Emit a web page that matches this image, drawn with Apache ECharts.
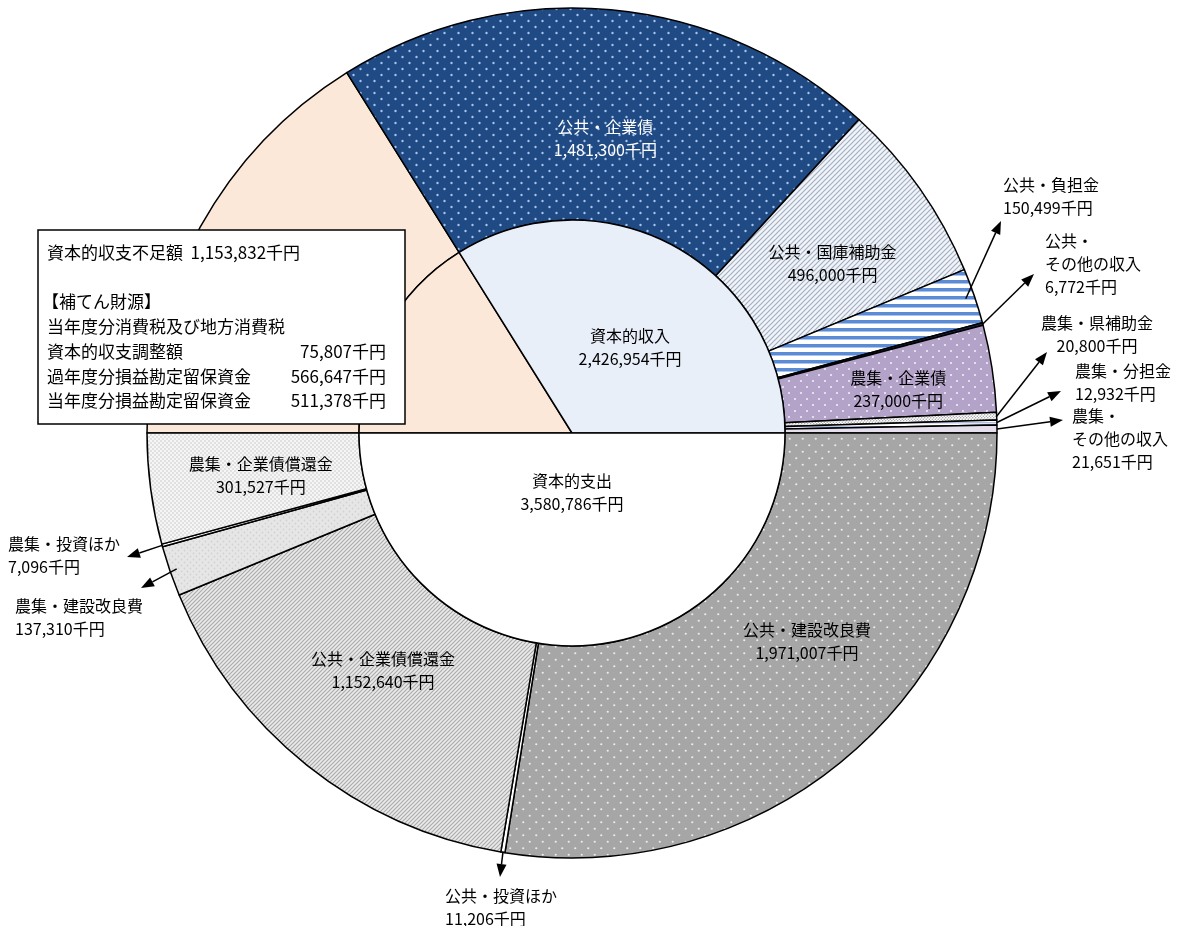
<!DOCTYPE html>
<html>
<head>
<meta charset="utf-8">
<script src="https://cdn.jsdelivr.net/npm/echarts@6/dist/echarts.min.js"></script>
<style>
html, body { margin: 0; padding: 0; background: #fff; }
#chart { width: 1184px; height: 926px; }
</style>
</head>
<body>
<div id="chart"></div>
<script>
// 外側: 資本的収入(上半分) + 資本的支出(下半分)
var outerNames = ['資本的収支不足額', '公共・企業債', '公共・国庫補助金', '公共・負担金', '公共・\nその他の収入',
	'農集・企業債', '農集・県補助金', '農集・分担金', '農集・\nその他の収入',
	'公共・建設改良費', '公共・投資ほか', '公共・企業債償還金', '農集・建設改良費', '農集・投資ほか', '農集・企業債償還金'];
var outerValues = [1153832, 1481300, 496000, 150499, 6772, 237000, 20800, 12932, 21651,
	1971007, 11206, 1152640, 137310, 7096, 301527];
// 内側
var innerNames = ['資本的収支不足額', '資本的収入', '資本的支出'];
var innerValues = [1153832, 2426954, 3580786];
// 補てん財源
var boxTitle = '資本的収支不足額';
var boxHeading = ['【補てん財源】', '当年度分消費税及び地方消費税'];
var boxNames = ['資本的収支調整額', '過年度分損益勘定留保資金', '当年度分損益勘定留保資金'];
var boxValues = [75807, 566647, 511378];

var cx = 572, cy = 433, r0 = 213, r1 = 425;
var font = '"Noto Sans CJK JP", "Noto Sans", sans-serif';

function fmt(v) {
	return v.toLocaleString('en-US') + '千円';
}
function pattern(w, h, bg, draw) {
	var c = document.createElement('canvas');
	c.width = w;
	c.height = h;
	var g = c.getContext('2d');
	g.fillStyle = bg;
	g.fillRect(0, 0, w, h);
	if (draw) draw(g, w, h);
	return { image: c, repeat: 'repeat' };
}
function dots(bg, fg, w, h, r) {
	return pattern(w, h, bg, function(g) {
		g.fillStyle = fg;
		[[w * 0.25, h * 0.25], [w * 0.75, h * 0.75]].forEach(function(p) {
			g.beginPath();
			g.arc(p[0], p[1], r, 0, Math.PI * 2);
			g.fill();
		});
	});
}
function diag(bg, fg, s, lw) {
	return pattern(s, s, bg, function(g) {
		g.strokeStyle = fg;
		g.lineWidth = lw;
		g.beginPath();
		g.moveTo(-1, s + 1); g.lineTo(s + 1, -1);
		g.moveTo(-1, 1); g.lineTo(1, -1);
		g.moveTo(s - 1, s + 1); g.lineTo(s + 1, s - 1);
		g.stroke();
	});
}
function stripes(bg, fg, h, band) {
	return pattern(4, h, bg, function(g) {
		g.fillStyle = fg;
		g.fillRect(0, 0, 4, band);
		g.fillStyle = '#a9c3ea';
		g.fillRect(0, band, 4, 1);
	});
}

var outerFills = [
	'#fce8d9',
	dots('#1f4a84', '#a6c4ec', 14, 12, 1.2),
	diag('#f1f4f9', '#a3afc0', 5, 1.2),
	stripes('#ffffff', '#5b8bd4', 8, 3),
	'#1c2c4c',
	dots('#b3a3c9', '#f1ecf7', 12, 12, 1.1),
	dots('#ffffff', '#9a9a9a', 3, 3, 0.7),
	stripes('#e6e0ef', '#ffffff', 4, 2),
	'#e6e0ee',
	dots('#a6a6a6', '#ececec', 13, 13, 1.1),
	'#ffffff',
	diag('#ebebeb', '#ababab', 4, 1.2),
	dots('#e6e6e6', '#d2d2d2', 6, 6, 0.9),
	'#ffffff',
	dots('#f6f6f6', '#c4c4c4', 4, 4, 0.8)
];
var innerFills = ['#fce8d9', '#e9eff9', '#ffffff'];

// 外部ラベルの位置 [x, y(top), align] と矢印 [先端x, 先端y, 始点半径]
var outsideLabels = {
	3: [1003, 173, 'left'], 4: [1045, 229, 'left'], 6: [1097, 311, 'center'],
	7: [1075, 359, 'left'], 8: [1072, 404, 'left'], 10: [445, 884, 'left'],
	12: [15, 594, 'left'], 13: [8, 532, 'left']
};
var arrows = {
	3: [1001, 221, 416], 4: [1034, 274, 425], 6: [1047, 352, 425], 7: [1061, 391, 425],
	8: [1063, 420, 425], 10: [500, 877, 424], 12: [141, 588, 418], 13: [127, 557, 425]
};
var insideShift = { 1: [4, 26], 2: [-3, 15], 5: [8, 5], 9: [26, -37], 11: [12, -14], 14: [8, 0] };
var innerShift = { 1: [5, 10], 2: [0, -50] };

var total = outerValues.reduce(function(a, b) { return a + b; }, 0);
var cum = 0;
var mids = outerValues.map(function(v) {
	var m = 180 - (cum + v / 2) / total * 360;
	cum += v;
	return m;
});
function polar(r, deg) {
	var a = deg * Math.PI / 180;
	return [cx + r * Math.cos(a), cy - r * Math.sin(a)];
}

var graphics = [];
Object.keys(arrows).forEach(function(k) {
	var a = arrows[k];
	var s = polar(a[2], mids[k]);
	var tx = a[0], ty = a[1];
	var dx = tx - s[0], dy = ty - s[1];
	var len = Math.sqrt(dx * dx + dy * dy);
	var ux = dx / len, uy = dy / len;
	var bx = tx - ux * 13, by = ty - uy * 13;
	graphics.push({
		type: 'line', z: 100,
		shape: { x1: s[0], y1: s[1], x2: bx, y2: by },
		style: { stroke: '#000', lineWidth: 1.5 }
	});
	graphics.push({
		type: 'polygon', z: 100,
		shape: { points: [[tx, ty], [bx - uy * 5, by + ux * 5], [bx + uy * 5, by - ux * 5]] },
		style: { fill: '#000' }
	});
});

// 補てん財源の枠
var boxFont = '17px ' + font;
var boxTexts = [
	{ type: 'rect', shape: { x: 38, y: 230, width: 367, height: 194 }, style: { fill: '#fff', stroke: '#000', lineWidth: 1.5 } },
	{ type: 'text', x: 47, y: 253, style: { text: boxTitle + '  ' + fmt(innerValues[0]), font: boxFont, fill: '#000', verticalAlign: 'middle' } },
	{ type: 'text', x: 42, y: 302, style: { text: boxHeading[0], font: boxFont, fill: '#000', verticalAlign: 'middle' } },
	{ type: 'text', x: 47, y: 327, style: { text: boxHeading[1], font: boxFont, fill: '#000', verticalAlign: 'middle' } }
];
boxNames.forEach(function(n, i) {
	var y = 352 + i * 24.5;
	boxTexts.push({ type: 'text', x: 47, y: y, style: { text: n, font: boxFont, fill: '#000', verticalAlign: 'middle' } });
	boxTexts.push({ type: 'text', x: 386, y: y, style: { text: fmt(boxValues[i]), font: boxFont, fill: '#000', align: 'right', verticalAlign: 'middle' } });
});
boxTexts.forEach(function(g) { g.z = 110; graphics.push(g); });

var outerData = outerValues.map(function(v, i) {
	return {
		name: outerNames[i],
		value: v,
		itemStyle: { color: outerFills[i] },
		label: { show: i > 0, color: i === 1 ? '#fff' : '#000' }
	};
});
var innerData = innerValues.map(function(v, i) {
	return {
		name: innerNames[i],
		value: v,
		itemStyle: { color: innerFills[i] },
		label: { show: i > 0 }
	};
});

var labelBase = {
	position: 'inside',
	fontFamily: font,
	fontSize: 16,
	lineHeight: 23,
	color: '#000',
	textBorderWidth: 0,
	textShadowBlur: 0,
	formatter: function(p) {
		return p.name + '\n' + fmt(p.value);
	}
};

var myChart = echarts.init(document.getElementById('chart'));
myChart.setOption({
	animation: false,
	backgroundColor: '#fff',
	series: [{
		type: 'pie',
		center: [cx, cy],
		radius: [r0, r1],
		startAngle: 180,
		clockwise: true,
		avoidLabelOverlap: false,
		silent: true,
		emphasis: { disabled: true },
		itemStyle: { borderColor: '#000', borderWidth: 1.5 },
		label: labelBase,
		labelLine: { show: false },
		labelLayout: function(p) {
			var o = outsideLabels[p.dataIndex];
			if (o) {
				return { x: o[0], y: o[1], align: o[2], verticalAlign: 'top' };
			}
			var s = insideShift[p.dataIndex] || [0, 0];
			return { dx: s[0], dy: s[1] };
		},
		data: outerData
	}, {
		type: 'pie',
		center: [cx, cy],
		radius: [0, r0],
		startAngle: 180,
		clockwise: true,
		avoidLabelOverlap: false,
		silent: true,
		emphasis: { disabled: true },
		itemStyle: { borderColor: '#000', borderWidth: 1.5 },
		label: labelBase,
		labelLine: { show: false },
		labelLayout: function(p) {
			var s = innerShift[p.dataIndex] || [0, 0];
			return { dx: s[0], dy: s[1] };
		},
		data: innerData
	}],
	graphic: graphics
});
</script>
</body>
</html>
